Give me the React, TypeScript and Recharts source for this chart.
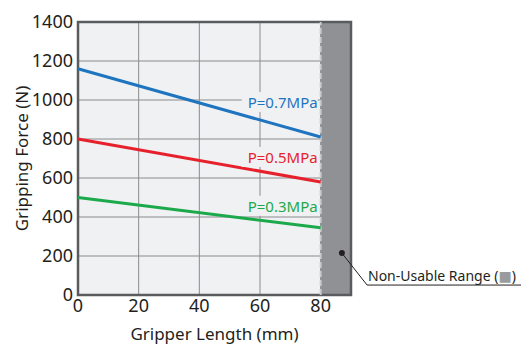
import {
  LineChart,
  Line,
  XAxis,
  YAxis,
  CartesianGrid,
  ReferenceArea,
  ReferenceLine,
  ReferenceDot,
  LabelList,
  Label,
} from "recharts";

const lengths = [0, 80];
const force07 = [1160, 810];
const force05 = [800, 580];
const force03 = [500, 345];
const xTicks = [0, 20, 40, 60, 80];
const yTicks = [0, 200, 400, 600, 800, 1000, 1200, 1400];
const nonUsable = [80, 90];

const data = lengths.map((x, i) => ({
  x,
  p07: force07[i],
  p05: force05[i],
  p03: force03[i],
}));

const FONT = "'Noto Sans', 'DejaVu Sans', sans-serif";
const PLOT_BG = "#f0f1f3";

function endLabel(text: string, color: string, dy: number) {
  return (props: any) => {
    const { x, y, index } = props;
    if (index !== lengths.length - 1) return null;
    return (
      <g>
        <rect x={x - 79} y={y + dy - 10} width={76} height={20} fill={PLOT_BG} />
        <text
          x={x - 3}
          y={y + dy}
          textAnchor="end"
          dominantBaseline="central"
          fill={color}
          fontSize={15}
          fontFamily={FONT}
        >
          {text}
        </text>
      </g>
    );
  };
}

export default function App() {
  return (
    <div style={{ position: "absolute", left: 0, top: 0, width: 521, height: 345, fontFamily: FONT }}>
      <LineChart width={521} height={345} data={data} margin={{ top: 22, right: 170, bottom: 0, left: 0 }}>
        <CartesianGrid fill={PLOT_BG} stroke="#8a8b8d" strokeWidth={1} />
        <ReferenceArea x1={nonUsable[0]} x2={nonUsable[1]} y1={0} y2={1400} fill="#909194" fillOpacity={1} stroke="none" />
        <ReferenceLine x={nonUsable[0]} stroke="#c9cacc" strokeWidth={2} strokeDasharray="6 3" />
        <XAxis
          type="number"
          dataKey="x"
          domain={[0, 90]}
          ticks={xTicks}
          axisLine={false}
          tickLine={false}
          tickSize={0}
          tickMargin={4}
          height={50}
          tick={{ fill: "#231f20", fontSize: 18 }}
        >
          <Label value="Gripper Length  (mm)" position="insideBottom" offset={5} fill="#231f20" fontSize={17} />
        </XAxis>
        <YAxis
          type="number"
          domain={[0, 1400]}
          ticks={yTicks}
          axisLine={false}
          tickLine={false}
          tickSize={0}
          tickMargin={5}
          width={78}
          tick={{ fill: "#231f20", fontSize: 18 }}
        >
          <Label value="Gripping Force (N)" angle={-90} position="center" dx={-17} fill="#231f20" fontSize={17} />
        </YAxis>
        <Line dataKey="p07" stroke="#1f74bf" strokeWidth={3} dot={false} isAnimationActive={false}>
          <LabelList content={endLabel("P=0.7MPa", "#1f74bf", -35)} />
        </Line>
        <Line dataKey="p05" stroke="#e7212b" strokeWidth={3} dot={false} isAnimationActive={false}>
          <LabelList content={endLabel("P=0.5MPa", "#e7212b", -25)} />
        </Line>
        <Line dataKey="p03" stroke="#1ca94c" strokeWidth={3} dot={false} isAnimationActive={false}>
          <LabelList content={endLabel("P=0.3MPa", "#1ca94c", -22)} />
        </Line>
        <ReferenceArea x1={0} x2={90} y1={0} y2={1400} fill="none" stroke="#5a5b5d" strokeWidth={2.5} />
        <ReferenceLine
          segment={[{ x: 87, y: 215 }, { x: 95.3, y: 51 }]}
          stroke="#231f20"
          strokeWidth={1}
          ifOverflow="visible"
        />
        <ReferenceLine
          segment={[{ x: 95.3, y: 51 }, { x: 150, y: 51 }]}
          stroke="#231f20"
          strokeWidth={1}
          ifOverflow="visible"
        />
        <ReferenceDot x={87} y={215} r={3} fill="#231f20" stroke="none" ifOverflow="visible" />
      </LineChart>
      <div
        style={{
          position: "absolute",
          left: 368,
          top: 266,
          fontSize: 14,
          color: "#231f20",
          whiteSpace: "nowrap",
        }}
      >
        Non-Usable Range (<span style={{ color: "#9a9b9d" }}>■</span>)
      </div>
    </div>
  );
}
